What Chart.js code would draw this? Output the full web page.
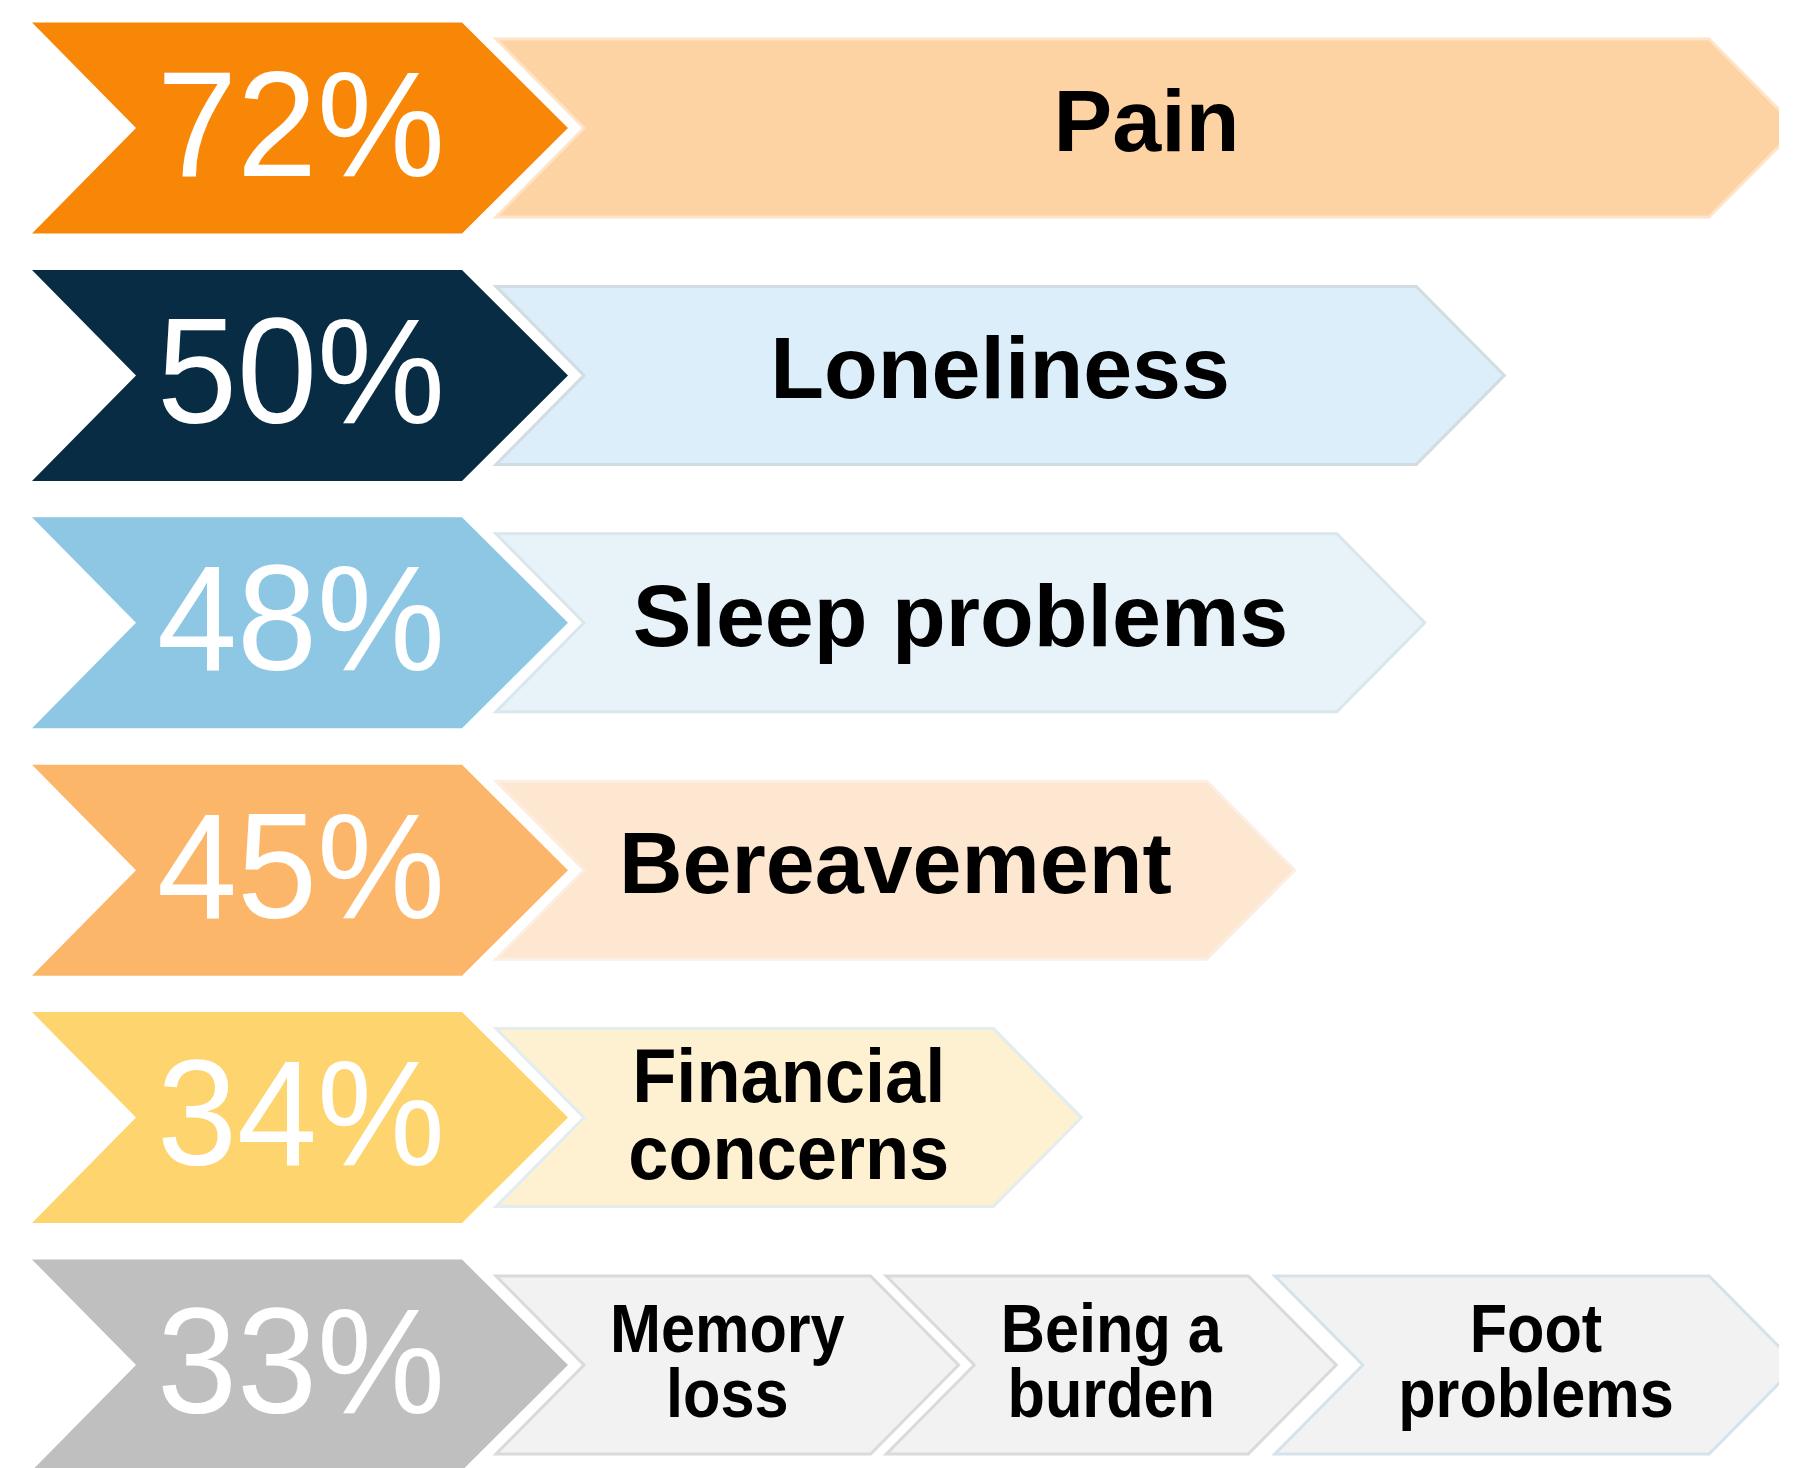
<!DOCTYPE html>
<html>
<head>
<meta charset="utf-8">
<title>Concerns</title>
<script src="https://cdn.jsdelivr.net/npm/chart.js@4.4.1/dist/chart.umd.min.js"></script>
<style>
  html, body { margin: 0; padding: 0; background: #fff; overflow: hidden; }
</style>
</head>
<body>
<canvas id="chevronChart" width="1810" height="1468"></canvas>
<script>
// percent shown in the big chevron of each row, top to bottom
const pctLabels = ['72%', '50%', '48%', '45%', '34%', '33%'];
// topic of each row (last row is split in three, see below)
const topics = [['Pain'], ['Loneliness'], ['Sleep problems'], ['Bereavement'], ['Financial', 'concerns'], null];
// how far each pale arrow reaches (x axis units)
const arrowReach = [72, 55.8, 51.4, 44.2, 32.4, null];
// last row : three arrows next to each other
const lastTopics = [['Memory', 'loss'], ['Being a', 'burden'], ['Foot', 'problems']];
const lastSpans = [[0, 25.6], [21.6, 46.5], [43.1, 72]];

// colours
const badgeColors = ['#F98707', '#072C44', '#8DC7E3', '#FCB66A', '#FDD46D', '#BFBFBF'];
const arrowFills = ['#FDD3A3', '#DBEEFA', '#E7F3F9', '#FDE7D0', '#FEF1D2', '#F2F2F2'];
const arrowStrokes = ['#FEE4C8', '#D2DCE1', '#D9E7ED', '#FBEEE2', '#E3ECEF', '#DADADA'];
const lastFills = ['#F2F2F2', '#F2F2F2', '#F2F2F2'];
const lastStrokes = ['#DADADA', '#DADADA', '#D4E3EB'];

const FONT = '"Liberation Sans", Arial, Helvetica, sans-serif';
const TIP = 88;  // depth of the arrow point / notch (px)

function chevron(ctx, x0, x1, yc, half, depth) {
    ctx.beginPath();
    ctx.moveTo(x0, yc - half);
    ctx.lineTo(x1 - depth, yc - half);
    ctx.lineTo(x1, yc);
    ctx.lineTo(x1 - depth, yc + half);
    ctx.lineTo(x0, yc + half);
    ctx.lineTo(x0 + depth, yc);
    ctx.closePath();
}

// text style per row : size, horizontal squeeze, baseline offsets
function textStyle(row, nLines) {
    if (row === 5) return { size: 68, sx: 0.9, offs: [-13, 52] };
    if (nLines === 2) return { size: 76, sx: 0.95, offs: [-16, 61] };
    return { size: 88, sx: 1, offs: [23] };
}

const arrowPlugin = {
    id: 'arrows',
    afterDatasetsDraw(chart) {
        const ctx = chart.ctx;
        const area = chart.chartArea;
        const yScale = chart.scales.y;

        // pale arrows (clipped at the right edge like the original)
        ctx.save();
        ctx.beginPath();
        ctx.rect(0, 0, area.right, chart.height);
        ctx.clip();
        chart.data.datasets.forEach((ds, di) => {
            const meta = chart.getDatasetMeta(di);
            meta.data.forEach((bar, i) => {
                if (ds.data[i] == null) return;
                const p = bar.getProps(['x', 'y', 'base', 'height'], true);
                chevron(ctx, p.base, p.x, p.y, p.height / 2, TIP);
                ctx.fillStyle = ds.fills[i];
                ctx.fill();
                ctx.lineWidth = 3;
                ctx.lineJoin = 'miter';
                ctx.strokeStyle = ds.strokes[i];
                ctx.stroke();

                const lines = ds.lines[i];
                const st = textStyle(i, lines.length);
                const cx = (p.base + p.x) / 2;
                ctx.fillStyle = '#000';
                ctx.textAlign = 'center';
                ctx.textBaseline = 'alphabetic';
                ctx.font = 'bold ' + st.size + 'px ' + FONT;
                lines.forEach((ln, k) => {
                    ctx.save();
                    ctx.translate(cx, p.y + st.offs[k]);
                    ctx.scale(st.sx, 1);
                    ctx.fillText(ln, 0, 0);
                    ctx.restore();
                });
            });
        });
        ctx.restore();

        // big percent chevrons on the left
        ctx.save();
        pctLabels.forEach((lbl, i) => {
            const yc = yScale.getPixelForValue(i);
            ctx.beginPath();
            ctx.moveTo(32, yc - 105.5);
            ctx.lineTo(462, yc - 105.5);
            ctx.lineTo(568, yc);
            ctx.lineTo(462, yc + 105.5);
            ctx.lineTo(32, yc + 105.5);
            ctx.lineTo(136, yc);
            ctx.closePath();
            ctx.fillStyle = badgeColors[i];
            ctx.fill();

            ctx.fillStyle = '#fff';
            ctx.textAlign = 'center';
            ctx.textBaseline = 'alphabetic';
            ctx.font = '150px ' + FONT;
            ctx.save();
            ctx.translate(301, yc + 47.5);
            ctx.scale(0.96, 1);
            ctx.fillText(lbl, 0, 0);
            ctx.restore();
        });
        ctx.restore();
    }
};

const datasets = [{
    label: 'topics',
    data: arrowReach.map(v => v == null ? null : [0, v]),
    lines: topics,
    fills: arrowFills,
    strokes: arrowStrokes
}];
lastSpans.forEach((span, k) => {
    datasets.push({
        label: lastTopics[k].join(' '),
        data: pctLabels.map((_, i) => i === 5 ? span : null),
        lines: pctLabels.map((_, i) => i === 5 ? lastTopics[k] : null),
        fills: pctLabels.map(() => lastFills[k]),
        strokes: pctLabels.map(() => lastStrokes[k])
    });
});
datasets.forEach(ds => {
    ds.backgroundColor = 'rgba(0,0,0,0)';
    ds.borderWidth = 0;
    ds.grouped = false;
    ds.barThickness = 178;
});

new Chart(document.getElementById('chevronChart').getContext('2d'), {
    type: 'bar',
    data: { labels: pctLabels, datasets: datasets },
    options: {
        indexAxis: 'y',
        responsive: false,
        animation: false,
        layout: { padding: { left: 496, right: 31, top: 128, bottom: 103 } },
        scales: {
            x: { type: 'linear', display: false, min: 0, max: 71 },
            y: { type: 'category', display: false, offset: false }
        },
        plugins: {
            legend: { display: false },
            tooltip: { enabled: false }
        }
    },
    plugins: [arrowPlugin]
});
</script>
</body>
</html>
